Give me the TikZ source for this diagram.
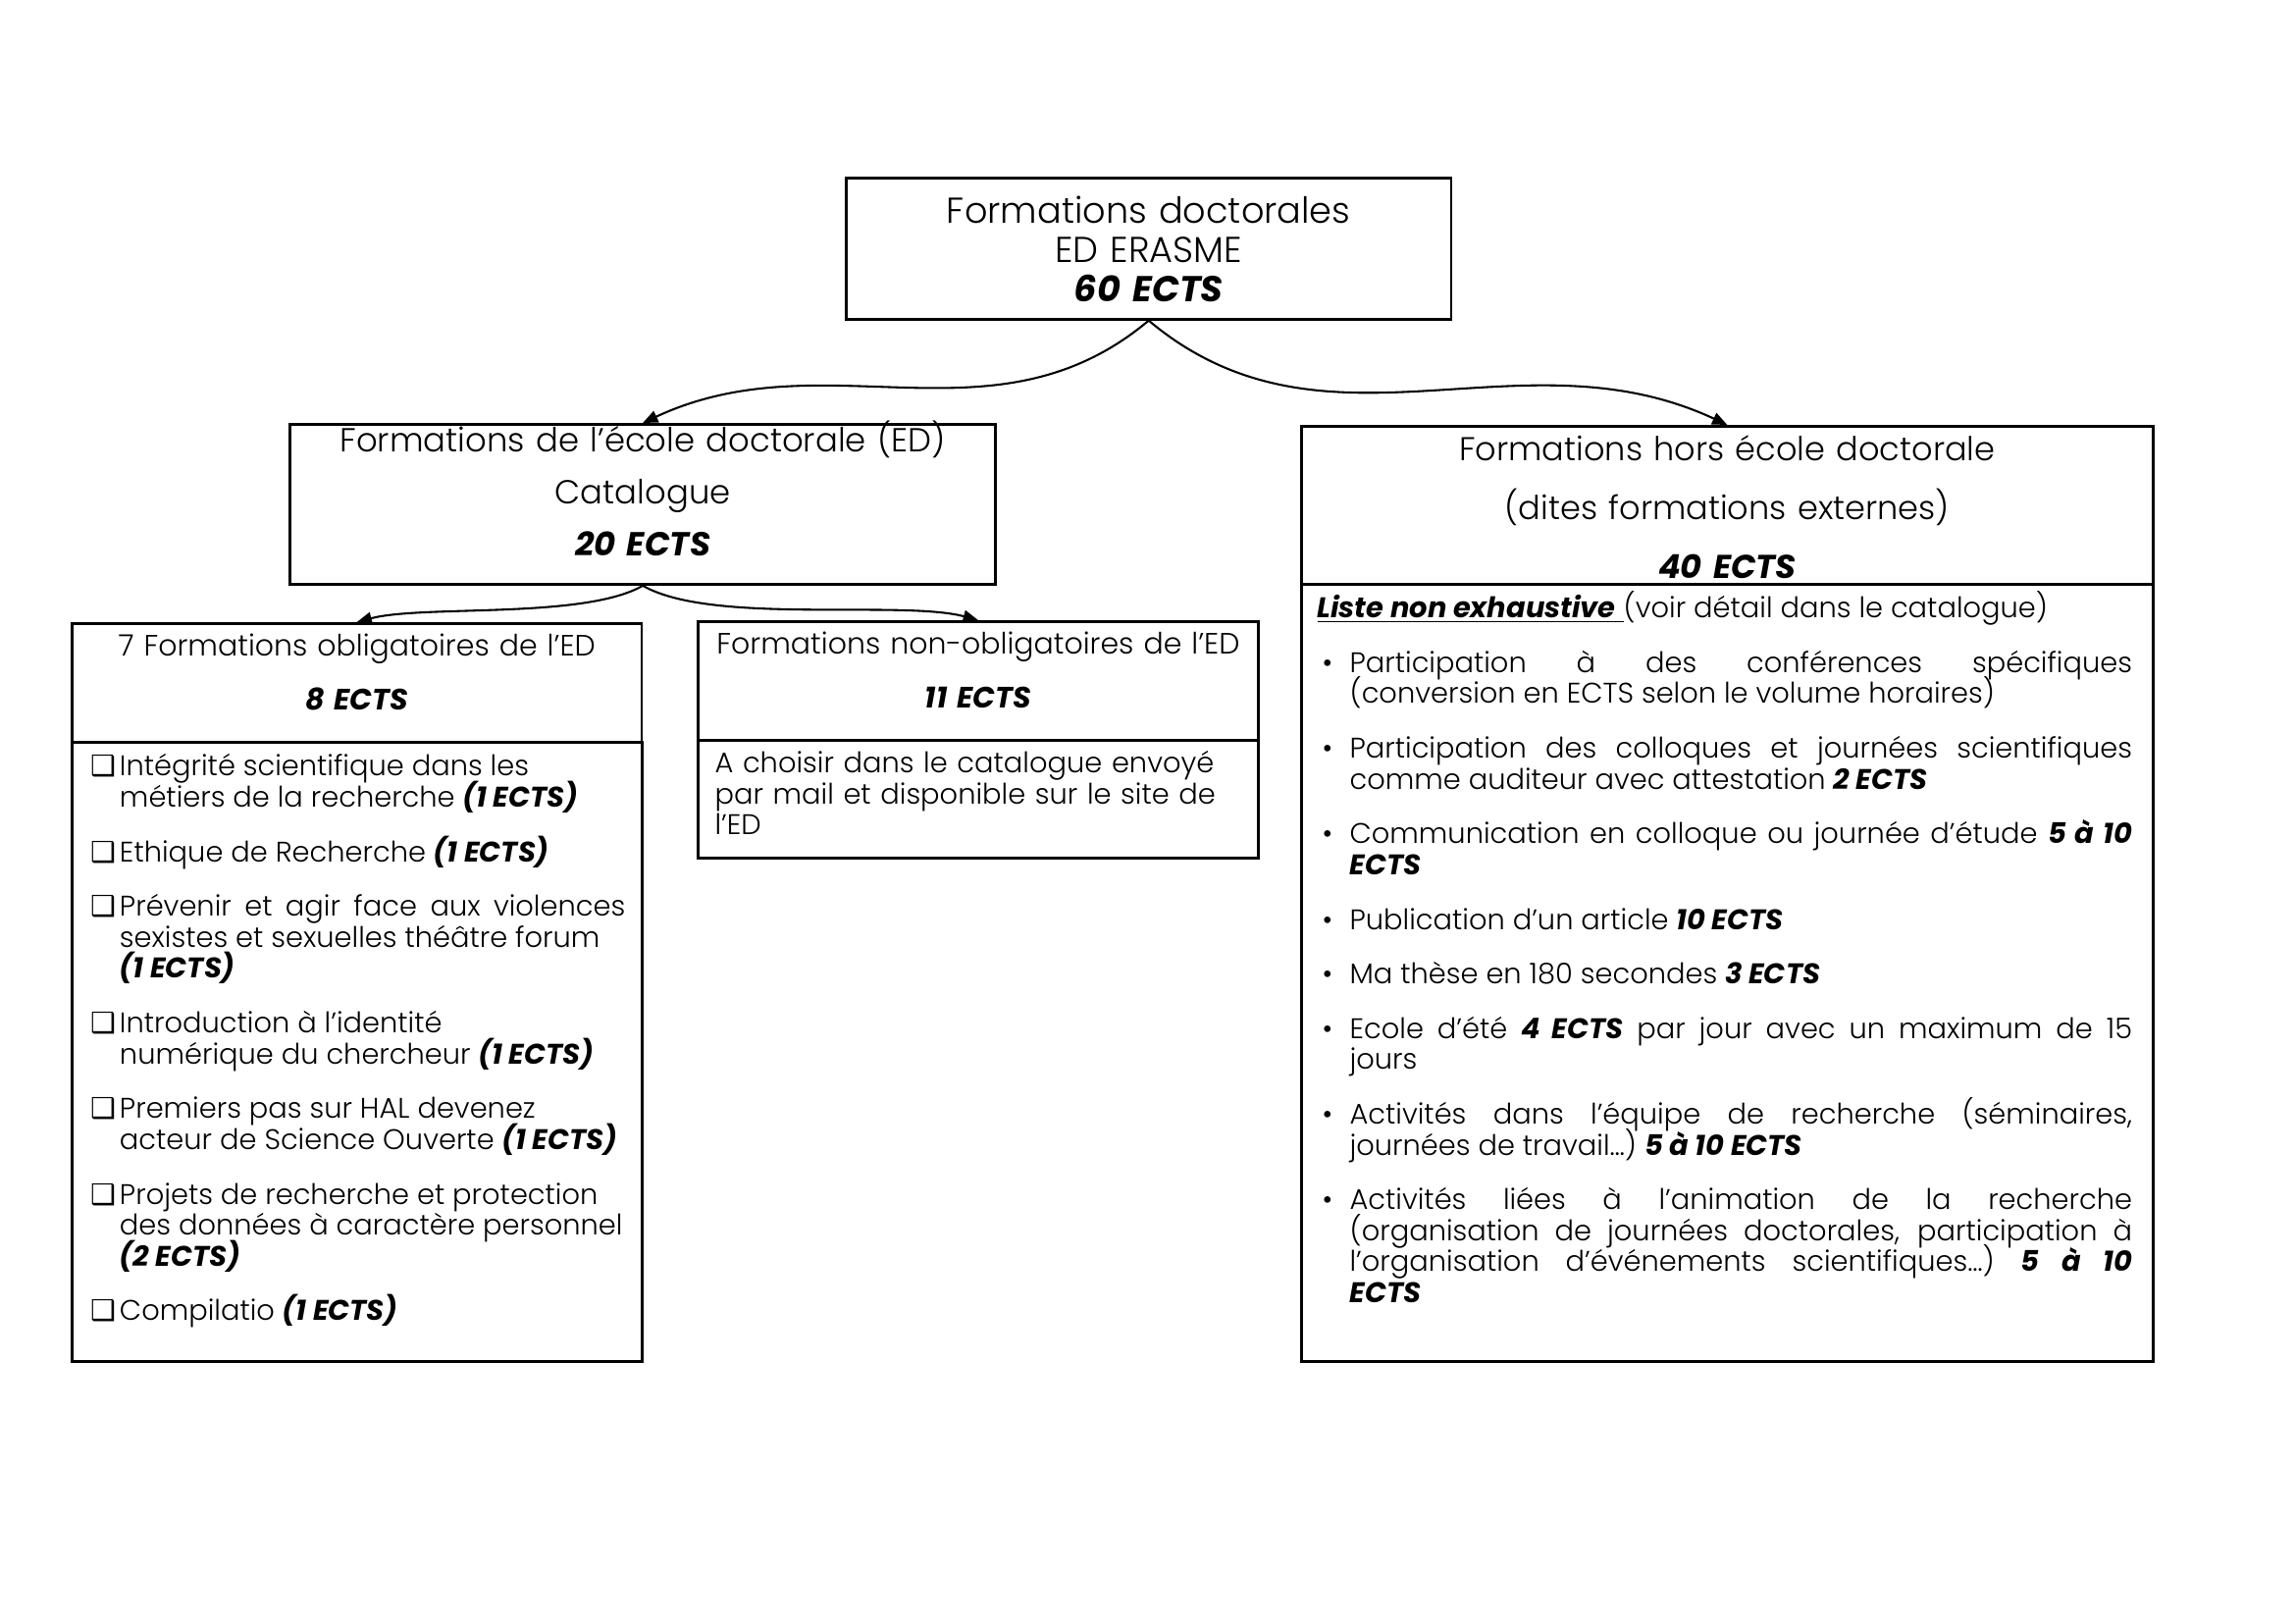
\documentclass[tikz,border=0pt]{standalone}
\usepackage{fontspec}
\setmainfont{Poppins}[UprightFont={* Light}, ItalicFont={* Light Italic},
  BoldFont={* Bold}, BoldItalicFont={* Bold Italic}]
\newfontfamily\symfont{DejaVu Sans}
\usepackage{tikz}
\usetikzlibrary{arrows.meta, positioning}
\definecolor{boxline}{RGB}{0,0,0}
\newcommand{\ectsb}[1]{{\bfseries\itshape #1}}
\newcommand{\chkitem}[1]{\hangindent=10.7pt\hangafter=1\noindent\makebox[10.7pt][l]{\symfont ❑}#1\par}
\newcommand{\dotitem}[1]{\hangindent=11.9pt\hangafter=1\noindent\hspace*{1.8pt}\makebox[10.1pt][l]{•}#1\par}
\newcommand{\fixlines}{\setlength{\lineskiplimit}{-100pt}\setlength{\lineskip}{0pt}}
\tikzset{
  hdrbox/.style={rectangle, draw=boxline, line width=1pt, align=center,
    inner xsep=5pt, inner ysep=2pt},
  % first baseline sits #1/2 above the box centre
  hdrlift/.style={text height=0pt, text depth=#1},
  bodybox/.style={rectangle, draw=boxline, line width=1pt, inner sep=0pt},
  listtext/.style={inner sep=0pt, align=justify,
    font=\fontsize{10.4}{11.35}\selectfont\fixlines\setlength{\parskip}{8.7pt}},
  arrow/.style={-{Triangle[length=5.5pt,width=4.5pt]}, line width=0.75pt, color=boxline}
}

\begin{document}
\begin{tikzpicture}[x=0.36pt, y=-0.36pt, node distance=-1pt]
  \useasboundingbox (0,0) rectangle (2339,1654);

  % Top node
  \node[hdrbox, anchor=north west, text width=212pt, minimum height=51.8pt,
    font=\fontsize{13.2}{14.4}\selectfont\fixlines] (top) at (861,180)
    {Formations doctorales\\ED ERASME\\\ectsb{60 ECTS}};

  % Second level
  \node[hdrbox, hdrlift=38.4pt, anchor=north west, text width=249pt, minimum height=58.7pt,
    font=\fontsize{12.2}{19}\selectfont\fixlines] (ed) at (294,431)
    {Formations de l’école doctorale (ED)\\Catalogue\\\ectsb{20 ECTS}};
  \node[hdrbox, hdrlift=32.4pt, anchor=north west, text width=302.5pt, minimum height=58pt,
    font=\fontsize{12.1}{21.6}\selectfont\fixlines] (hors) at (1325,433)
    {Formations hors école doctorale\\(dites formations externes)\\\ectsb{40 ECTS}};
  \node[bodybox, below=of hors, minimum width=312.5pt, minimum height=285.1pt] (horsbody) {};

  % Third level
  \node[hdrbox, hdrlift=20pt, anchor=north west, text width=199pt, minimum height=43.6pt,
    font=\fontsize{10.8}{19.8}\selectfont\fixlines] (oblig) at (72,634)
    {7 Formations obligatoires de l’ED\\\ectsb{8 ECTS}};
  \node[bodybox, below=of oblig, minimum width=209.2pt, minimum height=227.2pt] (obligbody) {};
  \node[hdrbox, hdrlift=19.6pt, anchor=north west, text width=195.6pt, minimum height=43.6pt,
    font=\fontsize{10.8}{19.8}\selectfont\fixlines] (nonob) at (710,632)
    {Formations non-obligatoires de l’ED\\\ectsb{11 ECTS}};
  \node[bodybox, below=of nonob, minimum width=205.6pt, minimum height=43.2pt] (nonobbody) {};

  % Lists
  \node[listtext, anchor=north west, text width=196.2pt] (obliglist)
    at ([shift={(20,13)}]obligbody.north west) {%
    \chkitem{Intégrité scientifique dans les\newline métiers de la recherche \ectsb{(1 ECTS)}}
    \chkitem{Ethique de Recherche \ectsb{(1 ECTS)}}
    \chkitem{Prévenir et agir face aux violences\linebreak sexistes et sexuelles théâtre forum\newline \ectsb{(1 ECTS)}}
    \chkitem{Introduction à l’identité\newline numérique du chercheur \ectsb{(1 ECTS)}}
    \chkitem{Premiers pas sur HAL devenez\newline acteur de Science Ouverte \ectsb{(1 ECTS)}}
    \chkitem{Projets de recherche et protection\newline des données à caractère personnel\newline \ectsb{(2 ECTS)}}
    \chkitem{Compilatio \ectsb{(1 ECTS)}}};
  \node[listtext, anchor=north west, text width=194pt, align=left] (nonoblist)
    at ([shift={(18,12)}]nonobbody.north west)
    {A choisir dans le catalogue envoyé\\par mail et disponible sur le site de\\l’ED};
  \node[listtext, anchor=north west, text width=299pt] (horslist)
    at ([shift={(17,8)}]horsbody.north west) {%
    \noindent\underline{\ectsb{Liste non exhaustive}\ }(voir détail dans le catalogue)\par
    \dotitem{Participation à des conférences spécifiques\linebreak (conversion en ECTS selon le volume horaires)}
    \dotitem{Participation des colloques et journées scientifiques\linebreak comme auditeur avec attestation \ectsb{2 ECTS}}
    \dotitem{Communication en colloque ou journée d’étude \ectsb{5 à 10}\linebreak \ectsb{ECTS}}
    \dotitem{Publication d’un article \ectsb{10 ECTS}}
    \dotitem{Ma thèse en 180 secondes \ectsb{3 ECTS}}
    \dotitem{Ecole d’été \ectsb{4 ECTS} par jour avec un maximum de 15\linebreak jours}
    \dotitem{Activités dans l’équipe de recherche (séminaires,\linebreak journées de travail…) \ectsb{5 à 10 ECTS}}
    \dotitem{Activités liées à l’animation de la recherche\linebreak (organisation de journées doctorales, participation à\linebreak l’organisation d’événements scientifiques…) \ectsb{5 à 10}\linebreak \ectsb{ECTS}}};

  % Connections
  \draw[arrow] (top.south) to[out=-140, in=25] (ed.north);
  \draw[arrow] (top.south) to[out=-40, in=155] (hors.north);
  \draw[arrow] (ed.south) to[out=-150, in=15, looseness=0.6] (oblig.north);
  \draw[arrow] (ed.south) to[out=-30, in=165, looseness=0.6] (nonob.north);
\end{tikzpicture}
\end{document}
